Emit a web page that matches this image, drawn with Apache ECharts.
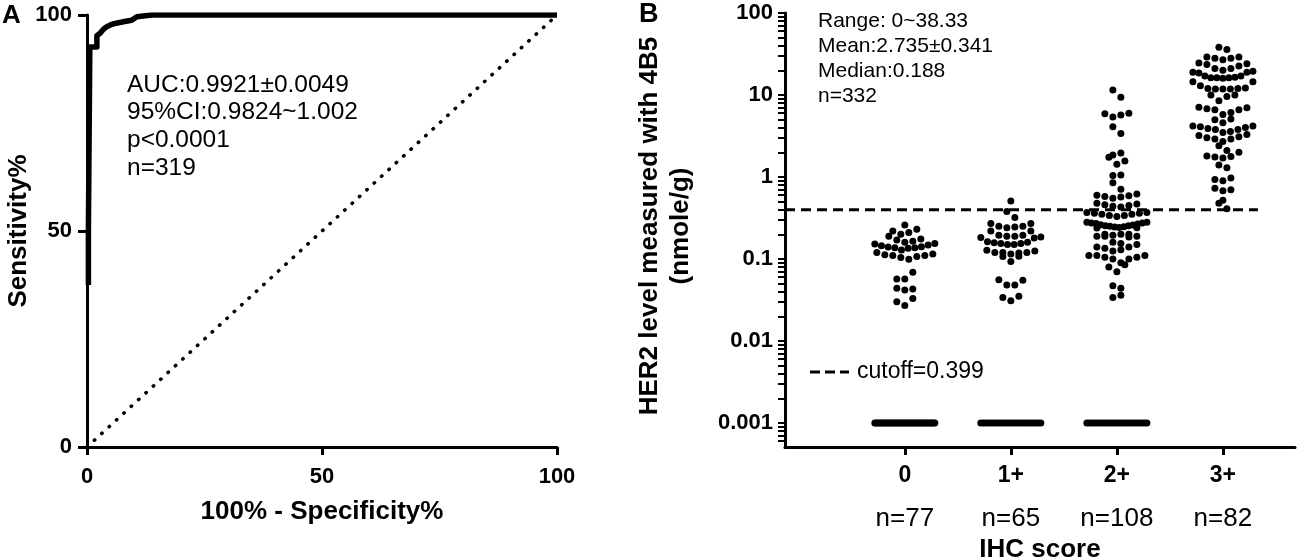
<!DOCTYPE html>
<html><head><meta charset="utf-8">
<script src="https://cdn.jsdelivr.net/npm/echarts@6/dist/echarts.min.js"></script>
<style>html,body{margin:0;padding:0;background:#fff}#c{width:1298px;height:560px}</style>
</head><body><div id="c"></div>
<script>
// ---------- Panel A: ROC curve ----------
const rocFPR  = [0.3, 0.3, 0.6, 0.6, 2.1, 2.1, 2.8, 3.5, 4.2, 5.2, 6.2, 8, 9.5, 10.6, 13.8, 100];
const rocSens = [37.5, 50.5, 50.5, 92.6, 92.6, 95.2, 95.8, 96.7, 97.3, 97.8, 98.1, 98.5, 98.8, 99.6, 100, 100];
const rocStats = ['AUC:0.9921±0.0049', '95%CI:0.9824~1.002', 'p<0.0001', 'n=319'];

// ---------- Panel B: HER2 level by IHC score ----------
const ihcCategories = ['0', '1+', '2+', '3+'];
const ihcCounts = [77, 65, 108, 82];
const zeroCounts = [40, 23, 23, 0];   // samples with 0 nmole/g (drawn at 0.001)
const her2_ihc0 = [0.26, 0.23, 0.21, 0.19, 0.20, 0.22,
  0.175, 0.165, 0.155, 0.148, 0.141, 0.137, 0.135, 0.137, 0.14, 0.145, 0.152, 0.16, 0.17,
  0.129, 0.115, 0.11, 0.107, 0.099, 0.104, 0.11, 0.113, 0.12,
  0.069, 0.057, 0.057, 0.044, 0.042, 0.043, 0.033, 0.030, 0.027];
const her2_ihc1 = [0.51, 0.38, 0.32,
  0.27, 0.25, 0.245, 0.24, 0.25, 0.27,
  0.22, 0.22,
  0.195, 0.19, 0.18, 0.183, 0.185, 0.19, 0.195,
  0.16, 0.15, 0.162, 0.155, 0.15, 0.155, 0.158,
  0.12, 0.118, 0.12, 0.108, 0.128, 0.107, 0.115, 0.12, 0.125,
  0.093,
  0.055, 0.048, 0.048, 0.056,
  0.034, 0.031, 0.035];
const her2_ihc2 = [11.5, 9.4, 6.0, 5.9, 5.4, 5.7, 4.1, 3.4,
  1.96, 1.85, 1.74, 1.57, 1.43,
  1.06, 1.04, 0.85, 0.71,
  0.60, 0.57, 0.55, 0.58, 0.59, 0.62,
  0.48, 0.46, 0.44, 0.43, 0.45, 0.47,
  0.37, 0.36, 0.35, 0.34, 0.35, 0.36, 0.37, 0.33, 0.34,
  0.28, 0.275, 0.27, 0.26, 0.255, 0.25, 0.245, 0.24, 0.238, 0.242, 0.248, 0.255, 0.262, 0.268, 0.275, 0.28,
  0.20, 0.20, 0.19, 0.19, 0.185, 0.19, 0.195, 0.2,
  0.16, 0.15, 0.14, 0.125, 0.13, 0.135, 0.14, 0.155,
  0.11, 0.105, 0.10, 0.11, 0.10, 0.105, 0.11,
  0.09, 0.085, 0.07, 0.08,
  0.047, 0.044, 0.036, 0.034];
const her2_ihc3 = [38.33, 36,
  29, 28, 27, 28, 29,
  24.5, 24, 21, 20, 21, 22.5, 23.5,
  19, 18.5, 17, 16.2, 16.2, 16, 16.2, 16.5, 17, 19, 19.5,
  14.5, 13, 14.5,
  12, 11.8, 11.8, 11.8, 12, 12.2,
  10, 9.6, 10,
  8.5,
  7.1, 6.8, 6.6, 5.8, 6.1, 6.6, 7,
  5.1, 4.6, 4.2, 5.0,
  4.2, 4.0, 3.8, 3.6, 3.3, 3.5, 3.8, 3.9, 4.1,
  3.1, 2.9, 2.7, 2.4, 2.9, 3.0, 3.2,
  2.1, 2.0, 1.8, 1.75, 1.7, 1.78,
  1.4, 1.3,
  0.97, 0.93, 0.9,
  0.73, 0.7, 0.68,
  0.52, 0.48,
  0.41];
const her2Groups = [her2_ihc0, her2_ihc1, her2_ihc2, her2_ihc3];
const cutoff = 0.399;
const her2Stats = ['Range: 0~38.33', 'Mean:2.735±0.341', 'Median:0.188', 'n=332'];
const logTickValues = [0.001, 0.01, 0.1, 1, 10, 100];
const ZERO_PLOT = 0.001;

// ---------- helpers / layout constants ----------
const lg = v => Math.log10(v > 0 ? v : ZERO_PLOT);
const Y_MIN = -3.293, Y_MAX = 2;
const X_MIN = 0, X_MAX = 4.81, CAT_X0 = 1.13, CUT_END = 4.46;
const catX = ihcCategories.map((c, i) => CAT_X0 + i);
const majorLog = logTickValues.map(v => Math.log10(v));
const allTickLog = majorLog.slice();
for (let e = -4; e <= 1; e++) for (let k = 2; k <= 9; k++) {
  const v = Math.log10(k) + e; if (v > Y_MIN && v < Y_MAX) allTickLog.push(v);
}
allTickLog.sort((a, b) => a - b);
const FONT = '"Liberation Sans", Arial, Helvetica, sans-serif';
const black = '#000';

const chart = echarts.init(document.getElementById('c'), null, {renderer: 'canvas'});
const option = {
  animation: false,
  backgroundColor: '#fff',
  textStyle: {fontFamily: FONT, color: black},
  grid: [
    {left: 87, top: 15, width: 470, height: 432, containLabel: false, outerBoundsMode: 'none'},
    {left: 785, top: 13, width: 510, height: 434, containLabel: false, outerBoundsMode: 'none'}
  ],
  xAxis: [
    {gridIndex: 0, type: 'value', min: 0, max: 100, interval: 50,
     axisLine: {onZero: false, lineStyle: {color: black, width: 3}},
     axisTick: {length: 8, lineStyle: {color: black, width: 3}},
     splitLine: {show: false},
     axisLabel: {color: black, fontSize: 22, fontWeight: 'bold', margin: 19, fontFamily: FONT},
     name: '100% - Specificity%', nameLocation: 'middle', nameGap: 52,
     nameTextStyle: {color: black, fontSize: 26, fontWeight: 'bold', fontFamily: FONT}},
    {gridIndex: 1, type: 'value', min: X_MIN, max: X_MAX,
     axisLine: {onZero: false, lineStyle: {color: black, width: 3}},
     axisTick: {length: 8, customValues: catX, lineStyle: {color: black, width: 3}},
     splitLine: {show: false},
     axisLabel: {margin: 14, customValues: catX,
       formatter: v => { const i = catX.findIndex(c => Math.abs(c - v) < 1e-6); return i < 0 ? '' : '{c|' + ihcCategories[i] + '}\n{n|n=' + ihcCounts[i] + '}'; },
       rich: {c: {fontSize: 23, fontWeight: 'bold', lineHeight: 30, color: black, fontFamily: FONT},
              n: {fontSize: 26, lineHeight: 56, color: black, fontFamily: FONT}}},
     name: 'IHC score', nameLocation: 'middle', nameGap: 88,
     nameTextStyle: {color: black, fontSize: 26, fontWeight: 'bold', fontFamily: FONT}}
  ],
  yAxis: [
    {gridIndex: 0, type: 'value', min: 0, max: 100, interval: 50,
     axisLine: {onZero: false, lineStyle: {color: black, width: 3}},
     axisTick: {length: 9, lineStyle: {color: black, width: 3}},
     splitLine: {show: false},
     axisLabel: {color: black, fontSize: 22, fontWeight: 'bold', margin: 15, fontFamily: FONT},
     name: 'Sensitivity%', nameLocation: 'middle', nameGap: 54,
     nameTextStyle: {color: black, fontSize: 26, fontWeight: 'bold', fontFamily: FONT}},
    {gridIndex: 1, type: 'value', min: Y_MIN, max: Y_MAX, position: 'left',
     axisLine: {onZero: false, lineStyle: {color: black, width: 3}},
     axisTick: {length: 7, customValues: allTickLog, lineStyle: {color: black, width: 2}},
     splitLine: {show: false},
     axisLabel: {color: black, fontSize: 22, fontWeight: 'bold', margin: 12, fontFamily: FONT,
       customValues: majorLog,
       formatter: v => { const i = majorLog.findIndex(m => Math.abs(m - v) < 1e-6); return i >= 0 ? String(logTickValues[i]) : ''; }},
     name: 'HER2 level measured with 4B5\n(nmole/g)', nameLocation: 'middle', nameGap: 89,
     nameTextStyle: {color: black, fontSize: 26, fontWeight: 'bold', lineHeight: 31, fontFamily: FONT,
                     padding: [0, 0, 0, 8]}}
  ],
  series: [
    {id: 'roc', type: 'line', xAxisIndex: 0, yAxisIndex: 0, symbol: 'none',
     data: rocFPR.map((x, i) => [x, rocSens[i]]),
     lineStyle: {color: black, width: 5.5, join: 'round', cap: 'butt'}, z: 5},
    {id: 'diag', type: 'line', xAxisIndex: 0, yAxisIndex: 0, symbol: 'none',
     data: [[0, 0], [100, 100]],
     lineStyle: {color: black, width: 3.5, type: [0.5, 9.5], cap: 'round'}, z: 3},
    {id: 'cut', type: 'line', xAxisIndex: 1, yAxisIndex: 1, symbol: 'none',
     data: [[X_MIN, lg(cutoff)], [CUT_END, lg(cutoff)]],
     lineStyle: {color: black, width: 3, type: [10, 6]}, z: 4},
    {id: 'dots', type: 'scatter', xAxisIndex: 1, yAxisIndex: 1, symbol: 'circle', symbolSize: 7,
     itemStyle: {color: black, opacity: 1}, data: [], z: 6}
  ],
  graphic: [
    {type: 'text', left: 2, top: 3, style: {text: 'A', font: 'bold 26px ' + FONT, fill: black}},
    {type: 'text', left: 639, top: 1, style: {text: 'B', font: 'bold 27px ' + FONT, fill: black}},
    {type: 'text', x: 127, y: 71, style: {text: rocStats.join('\n'), font: '24.5px ' + FONT, lineHeight: 27.7, fill: black}},
    {type: 'text', x: 818, y: 9, style: {text: her2Stats.join('\n'), font: '21px ' + FONT, lineHeight: 25, fill: black}},
    {type: 'line', shape: {x1: 810, y1: 372, x2: 849, y2: 372}, style: {stroke: black, lineWidth: 3, lineDash: [10, 5]}},
    {type: 'text', x: 857, y: 372, style: {text: 'cutoff=' + cutoff, font: '23px ' + FONT, fill: black, verticalAlign: 'middle'}}
  ]
};
chart.setOption(option);

// ---------- scatter-dot (row swarm) layout using the axes' own scales ----------
const pxX = Math.abs(chart.convertToPixel({xAxisIndex: 1}, 1) - chart.convertToPixel({xAxisIndex: 1}, 0));
const pxY = Math.abs(chart.convertToPixel({yAxisIndex: 1}, 0) - chart.convertToPixel({yAxisIndex: 1}, 1));
const ROW_PX = 7.5, SPACING_PX = 8, CAP_PX = 30;
const dots = [];
her2Groups.forEach((vals, gi) => {
  const logs = vals.map(lg);
  for (let z = 0; z < zeroCounts[gi]; z++) logs.push(lg(0));
  logs.sort((a, b) => a - b);
  const rowH = ROW_PX / pxY;
  const rows = [];
  let cur = null;
  logs.forEach(v => {
    if (!cur || v > cur.start + rowH) { cur = {start: v, vals: []}; rows.push(cur); }
    cur.vals.push(v);
  });
  rows.forEach((row, ri) => {
    const k = row.vals.length;
    const s = k > 1 ? Math.min(SPACING_PX, 2 * CAP_PX / (k - 1)) : 0;
    const sign0 = ri % 2 ? -1 : 1;
    row.vals.forEach((v, j) => {
      let off;
      if (k % 2 === 1) { const m = Math.ceil(j / 2); off = j === 0 ? 0 : (j % 2 ? sign0 : -sign0) * m * s; }
      else { const m = Math.floor(j / 2) + 0.5; off = (j % 2 ? -sign0 : sign0) * m * s; }
      dots.push([catX[gi] + off / pxX, v]);
    });
  });
});
chart.setOption({series: [{id: 'dots', data: dots}]});
</script></body></html>
